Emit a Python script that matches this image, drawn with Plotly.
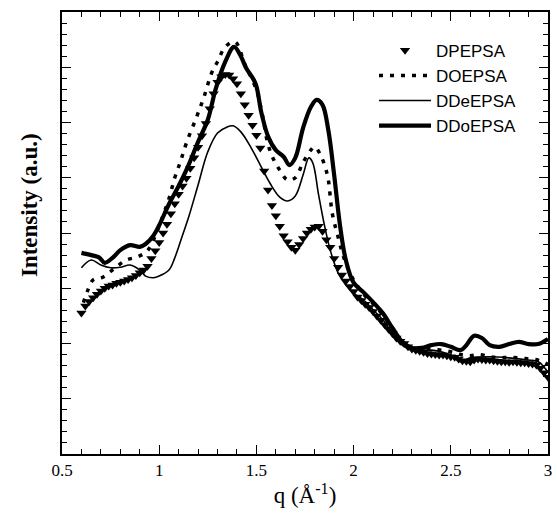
import plotly.graph_objects as go

# ---------------- data ----------------
q_dp = [0.60,0.62,0.64,0.66,0.68,0.70,0.72,0.74,0.76,0.78,0.80,0.82,0.84,0.86,0.88,0.90,0.92,0.94,0.96,0.98,
        1.00,1.02,1.04,1.06,1.08,1.10,1.12,1.14,1.16,1.18,1.20,1.22,1.24,1.26,1.28,1.30,1.32,1.34,1.36,1.38,
        1.40,1.42,1.44,1.46,1.48,1.50,1.52,1.54,1.56,1.58,1.60,1.62,1.64,1.66,1.68,1.70,1.72,1.74,1.76,1.78,
        1.80,1.82,1.84,1.86,1.88,1.90,1.92,1.94,1.96,1.98,2.00,2.02,2.04,2.06,2.08,2.10,2.12,2.14,2.16,2.18,
        2.20,2.22,2.24,2.26,2.28,2.30,2.32,2.34,2.36,2.38,2.40,2.42,2.44,2.46,2.48,2.50,2.52,2.54,2.56,2.58,
        2.60,2.62,2.64,2.66,2.68,2.70,2.72,2.74,2.76,2.78,2.80,2.82,2.84,2.86,2.88,2.90,2.92,2.94,2.96,2.98,3.00]
i_dp = [2.55,2.68,2.76,2.83,2.89,2.95,3.00,3.04,3.06,3.09,3.11,3.13,3.16,3.19,3.23,3.28,3.33,3.40,3.54,3.68,
        3.83,4.00,4.16,4.35,4.53,4.70,4.85,4.99,5.17,5.36,5.55,5.76,5.98,6.25,6.52,6.73,6.83,6.87,6.86,6.79,
        6.70,6.52,6.32,6.13,5.95,5.77,5.54,5.12,4.78,4.50,4.31,4.12,3.95,3.84,3.74,3.69,3.79,3.90,4.00,4.07,
        4.11,4.12,4.03,3.88,3.74,3.54,3.38,3.24,3.13,3.03,2.94,2.84,2.78,2.71,2.65,2.58,2.50,2.42,2.34,2.26,
        2.18,2.10,2.04,2.00,1.94,1.90,1.88,1.86,1.84,1.82,1.81,1.80,1.79,1.79,1.78,1.76,1.75,1.72,1.69,1.68,
        1.67,1.70,1.72,1.71,1.70,1.70,1.69,1.68,1.67,1.67,1.66,1.67,1.66,1.65,1.65,1.64,1.63,1.61,1.55,1.47,1.39]

q_do = [0.61,0.63,0.66,0.71,0.77,0.83,0.89,0.94,0.98,1.02,1.05,1.08,1.11,1.14,1.19,1.23,1.27,1.30,1.34,1.39,
        1.44,1.50,1.53,1.56,1.59,1.62,1.66,1.70,1.74,1.78,1.80,1.83,1.855,1.87,1.89,1.92,1.95,2.00,2.05,2.10,
        2.15,2.20,2.25,2.30,2.35,2.40,2.45,2.50,2.55,2.60,2.65,2.70,2.75,2.80,2.85,2.90,2.95,3.00]
i_do = [2.74,2.94,3.15,3.20,3.36,3.51,3.57,3.68,3.95,4.32,4.62,5.00,5.30,5.63,6.08,6.46,6.90,7.10,7.37,7.46,
        7.06,6.59,6.15,5.60,5.32,5.14,4.96,5.00,5.28,5.50,5.56,5.41,5.18,4.96,4.36,3.93,3.55,3.15,2.90,2.72,
        2.52,2.25,2.02,1.90,1.88,1.90,1.88,1.85,1.80,1.78,1.80,1.76,1.74,1.75,1.74,1.72,1.70,1.62]

q_dde = [0.60,0.65,0.70,0.75,0.80,0.85,0.90,0.93,0.97,1.00,1.05,1.08,1.12,1.15,1.20,1.25,1.30,1.35,1.38,1.42,
         1.47,1.52,1.57,1.62,1.66,1.70,1.74,1.77,1.79,1.82,1.85,1.88,1.92,1.96,2.00,2.05,2.10,2.15,2.20,2.25,
         2.30,2.40,2.50,2.55,2.60,2.70,2.80,2.90,2.95,3.00]
i_dde = [3.37,3.51,3.42,3.37,3.38,3.42,3.33,3.22,3.19,3.22,3.33,3.55,3.96,4.27,4.87,5.47,5.81,5.92,5.94,5.83,
         5.56,5.23,4.90,4.65,4.58,4.67,5.05,5.36,5.27,4.69,4.14,3.69,3.28,3.06,2.91,2.79,2.61,2.43,2.19,1.97,
         1.88,1.88,1.79,1.67,1.74,1.76,1.74,1.70,1.67,1.48]

q_ddo = [0.60,0.65,0.69,0.72,0.76,0.80,0.85,0.90,0.93,0.97,1.00,1.05,1.10,1.15,1.20,1.25,1.29,1.34,1.385,1.42,
         1.445,1.495,1.526,1.561,1.60,1.64,1.67,1.70,1.74,1.78,1.81,1.84,1.87,1.90,1.93,1.96,2.00,2.05,2.10,2.15,
         2.20,2.25,2.30,2.35,2.40,2.45,2.50,2.55,2.58,2.62,2.66,2.70,2.75,2.80,2.85,2.90,2.95,3.00]
i_ddo = [3.64,3.60,3.56,3.46,3.55,3.69,3.78,3.75,3.80,3.95,4.14,4.52,4.85,5.22,5.65,6.05,6.60,7.10,7.37,7.20,
         7.00,6.71,6.17,5.74,5.50,5.38,5.23,5.36,5.90,6.28,6.41,6.32,5.86,5.05,4.14,3.51,3.10,2.93,2.75,2.55,
         2.28,2.03,1.92,1.92,1.97,1.99,1.94,1.88,1.97,2.14,2.10,1.97,1.94,1.99,2.03,1.99,1.99,2.08]

names = ["DPEPSA", "DOEPSA", "DDeEPSA", "DDoEPSA"]
x_ticks = [0.5, 1, 1.5, 2, 2.5, 3]
x_ticktext = ["0.5", "1", "1.5", "2", "2.5", "3"]

# ---------------- figure ----------------
fig = go.Figure()
fig.add_trace(go.Scatter(x=q_dp, y=i_dp, mode="markers", name=names[0], legendgroup="a",
                         marker=dict(symbol="triangle-down", size=9, color="black")))
fig.add_trace(go.Scatter(x=q_do, y=i_do, mode="lines", name=names[1], legendgroup="b", line_shape="spline",
                         line=dict(color="black", width=3.5, dash="4px,7px")))
fig.add_trace(go.Scatter(x=q_dde, y=i_dde, mode="lines", name=names[2], legendgroup="c", line_shape="spline",
                         line=dict(color="black", width=1.6)))
fig.add_trace(go.Scatter(x=q_ddo, y=i_ddo, mode="lines", name=names[3], legendgroup="d", line_shape="spline",
                         line=dict(color="black", width=4.2)))

serif = "Liberation Serif"
fig.update_layout(
    width=557, height=521,
    margin=dict(l=62, r=5, t=12, b=67),
    paper_bgcolor="white", plot_bgcolor="white",
    showlegend=True,
    legend=dict(x=0.642, y=0.953, xanchor="left", yanchor="top",
                font=dict(family="Liberation Sans", size=17, color="black"),
                bgcolor="rgba(0,0,0,0)", itemwidth=52, traceorder="grouped", tracegroupgap=0),
    xaxis=dict(range=[0.5, 3], tickmode="array", tickvals=x_ticks, ticktext=x_ticktext,
               ticks="inside", ticklen=9, tickwidth=1, tickcolor="black",
               minor=dict(dtick=0.1, ticks="inside", ticklen=5, tickcolor="black"),
               showline=True, linecolor="black", linewidth=1.5, mirror="ticks",
               showgrid=False, zeroline=False,
               tickfont=dict(family=serif, size=17, color="black"),
               title=dict(text="q (Å<sup>-1</sup>)", font=dict(family=serif, size=23, color="black"),
                          standoff=8)),
    yaxis=dict(range=[0, 8], dtick=1, showticklabels=False,
               ticks="inside", ticklen=9, tickwidth=1, tickcolor="black",
               minor=dict(dtick=0.2, ticks="inside", ticklen=5, tickcolor="black"),
               showline=True, linecolor="black", linewidth=1.5, mirror="ticks",
               showgrid=False, zeroline=False),
)
fig.add_annotation(text="<b>Intensity (a.u.)</b>", textangle=-90, xref="paper", yref="paper",
                   x=-0.068, y=0.563, xanchor="center", yanchor="middle", showarrow=False,
                   font=dict(family=serif, size=23, color="black"))

fig.write_html("out.html", config={"displayModeBar": False},
               post_script="document.documentElement.style.margin='0';"
                           "document.body.style.margin='0';document.body.style.overflow='hidden';")
